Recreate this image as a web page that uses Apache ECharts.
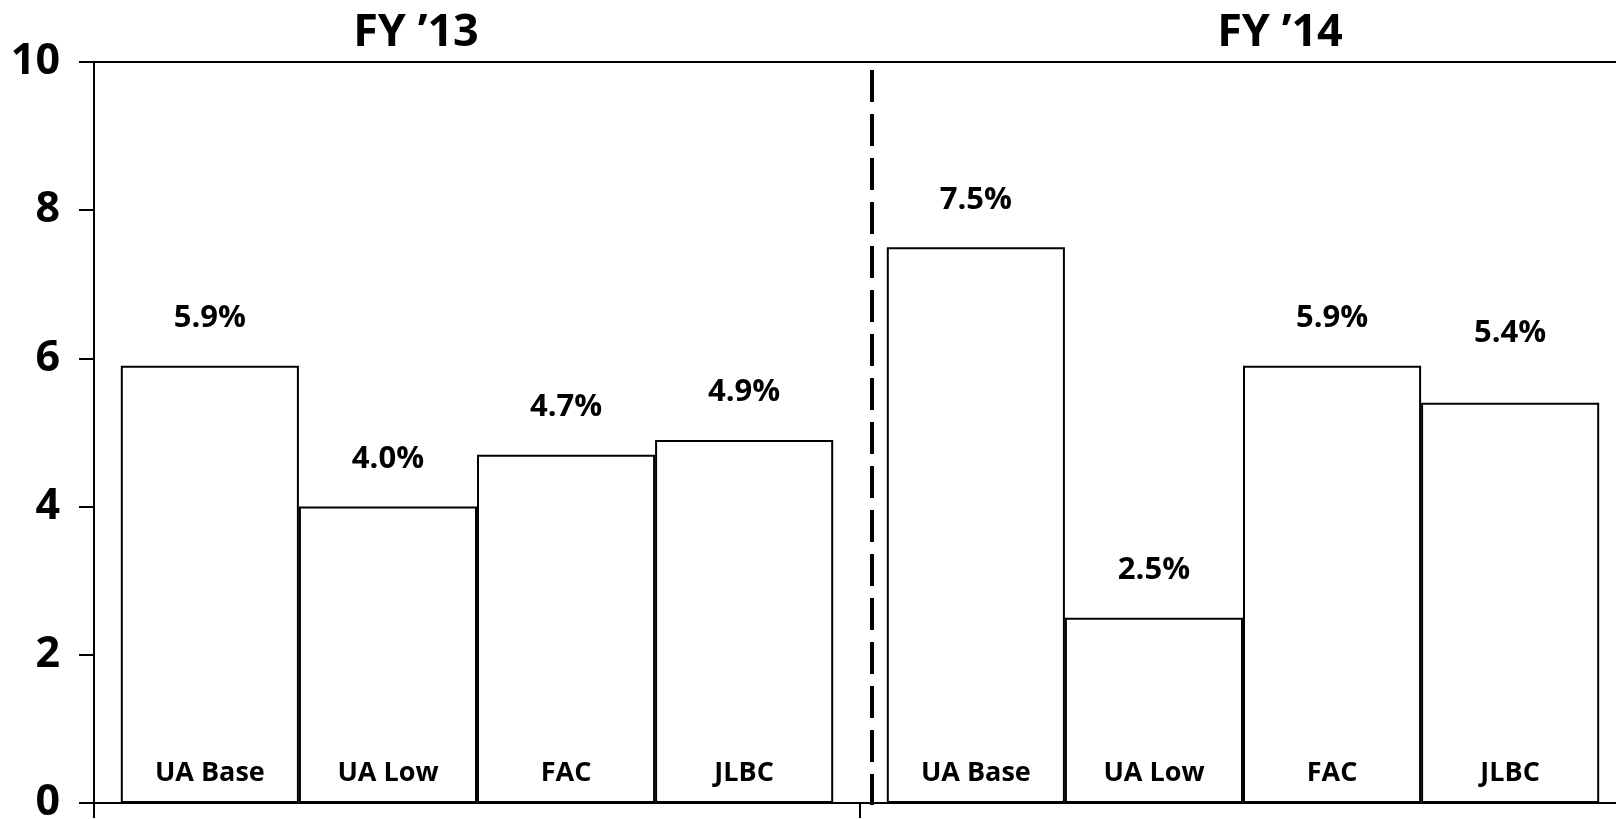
<!DOCTYPE html>
<html>
<head>
<meta charset="utf-8">
<style>
  html, body { margin: 0; padding: 0; background: #ffffff; overflow: hidden; }
  #chart { width: 1616px; height: 819px; }
</style>
<script src="https://cdn.jsdelivr.net/npm/echarts@6/dist/echarts.min.js"></script>
</head>
<body>
<div id="chart"></div>
<script>
// Fiscal years on the category axis
const periods = ['FY ’13', 'FY ’14'];
// Forecast sources, one bar each per fiscal year
const sources = ['UA Base', 'UA Low', 'FAC', 'JLBC'];
// Growth rates (%) per source, in period order
const uaBase = [5.9, 7.5];
const uaLow = [4.0, 2.5];
const fac = [4.7, 5.9];
const jlbc = [4.9, 5.4];
const seriesValues = [uaBase, uaLow, fac, jlbc];
// Value axis range and tick step
const yMin = 0;
const yMax = 10;
const yStep = 2;

const FONT = '"Open Sans", "Noto Sans", sans-serif';
const BAR_GAP = '7%';
const LABEL_DISTANCE = 32;
// The FY '14 JLBC percentage sits a little higher than the others
const RAISED_LABEL = { series: 3, period: 1, distance: 54 };

const chart = echarts.init(document.getElementById('chart'), null, { renderer: 'canvas' });

// Outlined bars carrying the percentage labels above them
const valueSeries = sources.map((name, i) => ({
  name: name,
  type: 'bar',
  xAxisIndex: 0,
  yAxisIndex: 0,
  data: seriesValues[i].map((v, j) =>
    (i === RAISED_LABEL.series && j === RAISED_LABEL.period)
      ? { value: v, label: { distance: RAISED_LABEL.distance } }
      : v
  ),
  barGap: '0%',
  barCategoryGap: BAR_GAP,
  itemStyle: { color: '#ffffff', borderColor: '#000000', borderWidth: 2 },
  label: {
    show: true,
    position: 'top',
    distance: LABEL_DISTANCE,
    formatter: p => Number(p.value).toFixed(1) + '%',
    fontFamily: FONT,
    fontWeight: 'bold',
    fontSize: 31,
    color: '#000000'
  },
  emphasis: { disabled: true },
  z: 2
}));

// Transparent twins on the top axis that print each source name at the bar foot
const nameSeries = sources.map((name, i) => ({
  name: name + ' name',
  type: 'bar',
  xAxisIndex: 1,
  yAxisIndex: 0,
  data: seriesValues[i],
  barGap: '0%',
  barCategoryGap: BAR_GAP,
  silent: true,
  itemStyle: { color: 'rgba(0,0,0,0)', borderWidth: 0 },
  label: {
    show: true,
    position: 'insideBottom',
    distance: 16,
    formatter: () => name,
    fontFamily: FONT,
    fontWeight: 'bold',
    fontSize: 27,
    color: '#000000'
  },
  emphasis: { disabled: true },
  z: 3
}));

const option = {
  animation: false,
  backgroundColor: '#ffffff',
  grid: {
    left: 94,
    right: -10,
    top: 62,
    bottom: 16,
    containLabel: false,
    outerBoundsMode: 'none'
  },
  xAxis: [
    {
      type: 'category',
      data: periods,
      position: 'bottom',
      axisLine: { show: true, lineStyle: { color: '#000000', width: 2 } },
      axisTick: { show: true, inside: false, length: 15, lineStyle: { color: '#000000', width: 2 } },
      axisLabel: { show: false },
      splitLine: { show: false }
    },
    {
      type: 'category',
      data: periods,
      position: 'top',
      axisLine: { show: true, lineStyle: { color: '#000000', width: 2 } },
      axisTick: { show: false },
      axisLabel: { show: false },
      splitLine: { show: false }
    }
  ],
  yAxis: {
    type: 'value',
    min: yMin,
    max: yMax,
    interval: yStep,
    axisLine: { show: true, lineStyle: { color: '#000000', width: 2 } },
    axisTick: { show: true, inside: false, length: 15, lineStyle: { color: '#000000', width: 2 } },
    axisLabel: {
      margin: 34,
      fontFamily: FONT,
      fontWeight: 'bold',
      fontSize: 43,
      color: '#000000'
    },
    splitLine: { show: false }
  },
  series: valueSeries.concat(nameSeries)
};

chart.setOption(option);

// Period headings and the dashed divider between the two fiscal years
const c0 = chart.convertToPixel({ xAxisIndex: 0 }, 0);
const c1 = chart.convertToPixel({ xAxisIndex: 0 }, 1);
const boundary = (c0 + c1) / 2;
const yTop = chart.convertToPixel({ yAxisIndex: 0 }, yMax);
const yBottom = chart.convertToPixel({ yAxisIndex: 0 }, yMin);

chart.setOption({
  graphic: [
    {
      type: 'text',
      x: 416,
      y: 33,
      style: {
        text: periods[0],
        fontFamily: FONT,
        fontWeight: 'bold',
        fontSize: 45,
        fill: '#000000',
        align: 'center',
        verticalAlign: 'middle'
      }
    },
    {
      type: 'text',
      x: 1280,
      y: 33,
      style: {
        text: periods[1],
        fontFamily: FONT,
        fontWeight: 'bold',
        fontSize: 45,
        fill: '#000000',
        align: 'center',
        verticalAlign: 'middle'
      }
    },
    {
      type: 'line',
      shape: { x1: boundary + 12, y1: yTop + 8, x2: boundary + 12, y2: yBottom + 2 },
      style: { stroke: '#000000', lineWidth: 4, lineDash: [32, 12] },
      z: 10
    }
  ]
});
</script>
</body>
</html>
